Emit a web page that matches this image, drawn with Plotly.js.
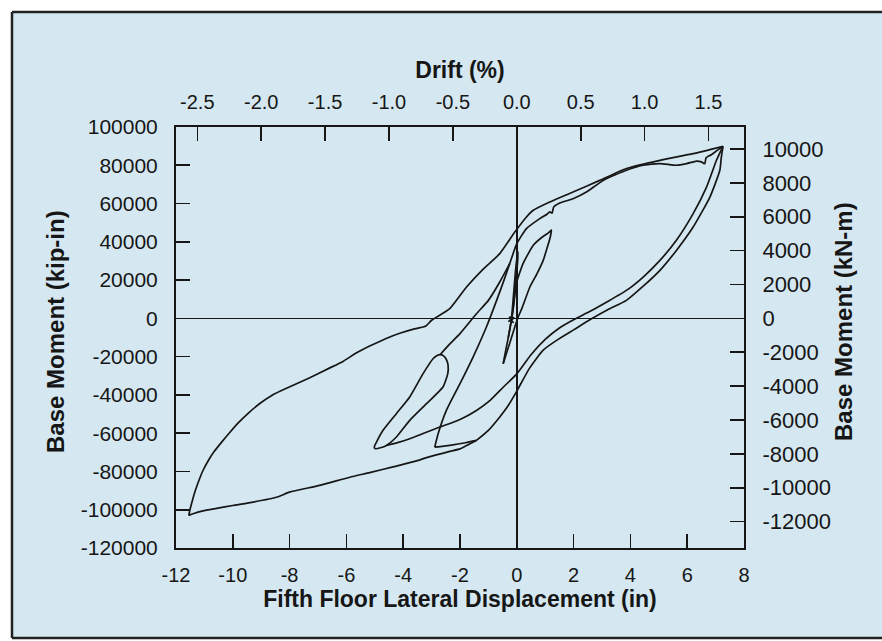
<!DOCTYPE html>
<html>
<head>
<meta charset="utf-8">
<script src="https://cdn.plot.ly/plotly-3.0.1.min.js"></script>
<style>
  html, body { margin: 0; padding: 0; background: #ffffff; }
  #chart { width: 882px; height: 641px; }
</style>
</head>
<body>
<div id="chart"></div>
<script>
// Base moment vs. fifth-floor lateral displacement, one trace per branch of the test history.

// Small elastic cycles around the origin
const elasticX = [-0.48, -0.38, -0.28, -0.2, -0.15, -0.1, -0.05, 0.0, 0.04, 0.03, -0.02, -0.08, -0.14, -0.19, -0.28, -0.1, -0.26, -0.12, -0.22];
const elasticY = [-23700, -16000, -8500, -2000, 6000, 15000, 24000, 31000, 34700, 30000, 21000, 11000, 3500, -500, -1500, 200, 600, -2200, -1000];

// Cycle to +1.2 in
const cycle1X = [-0.3, -0.15, -0.02, 0.22, 0.58, 0.9, 1.1, 1.22, 1.17, 1.05, 0.93, 0.7, 0.46, 0.2, 0.05, -0.07, -0.25, -0.48];
const cycle1Y = [-10000, 3000, 18000, 28600, 38200, 42500, 44500, 46200, 42000, 36000, 30300, 23000, 16400, 6000, 700, -4500, -13000, -23700];

// Loop between -5.0 in and -2.7 in
const negLoopX = [-4.59, -4.8, -4.98, -5.02, -4.92, -4.71, -4.24, -3.77, -3.3, -2.95, -2.82, -2.7, -2.58, -2.48, -2.42, -2.43, -2.6, -3.18, -3.77, -4.24, -4.59];
const negLoopY = [-66400, -67600, -68100, -67300, -64000, -58500, -49800, -41100, -28900, -21100, -19500, -19000, -19600, -21500, -24500, -28900, -35900, -44600, -53300, -62000, -66400];

// Reloading from the top of that loop
const negLoopReloadX = [-2.7, -2.4, -2.0, -1.42, -1.0, -0.6, -0.25];
const negLoopReloadY = [-19000, -14000, -8000, 2400, 9400, 19000, 28600];

// Unloading from +7.3 in (inner branch)
const unloadInnerX = [7.26, 7.15, 7.03, 6.68, 6.21, 5.62, 5.04, 4.45, 3.86, 3.2, 2.6, 2.0, 1.5, 1.0, 0.5, 0.0, -0.48, -0.95, -1.42, -2.0, -2.71, -3.3, -3.77, -4.2, -4.59];
const unloadInnerY = [89900, 86500, 82600, 68600, 54700, 40800, 30300, 21600, 14600, 8800, 3800, -700, -5000, -11000, -19000, -29000, -36000, -43000, -48100, -52800, -56800, -60200, -62900, -64900, -66400];

// Unloading from +7.3 in (outer branch)
const unloadOuterX = [7.26, 7.2, 7.15, 6.8, 6.21, 5.62, 5.04, 4.45, 3.86, 3.2, 2.6, 2.0, 1.4, 0.92, 0.45, 0.0, -0.3, -0.6, -1.0, -1.42];
const unloadOuterY = [89900, 84000, 77400, 63400, 47700, 35500, 25100, 16800, 9400, 4500, -500, -6000, -11500, -16700, -26000, -38000, -45500, -51500, -58500, -63800];

// Short excursion to -2.9 in
const toMinus29X = [-1.42, -1.8, -2.3, -2.7, -2.89];
const toMinus29Y = [-63800, -65000, -66200, -67000, -67300];

// Reloading from -2.9 in up to +7.3 in
const reloadB_X = [-2.89, -2.77, -2.48, -2.0, -1.54, -1.07, -0.71, -0.45, -0.25, 0.0, 0.34, 0.81, 1.05, 1.16, 1.24, 1.3, 1.51, 1.98, 2.45, 3.04, 3.86, 4.45, 5.04, 5.62, 5.98, 6.33, 6.5, 6.62, 6.66, 6.72, 6.85, 7.03, 7.26];
const reloadB_Y = [-67300, -60300, -48100, -34100, -20200, -4500, 9400, 20000, 28600, 39000, 46900, 52100, 54300, 55600, 55000, 58200, 60300, 62500, 66000, 72100, 77400, 80000, 80900, 80000, 80900, 82200, 81800, 80800, 83800, 84500, 85500, 87500, 89900];

// Push to the largest negative displacement
const pushNegX = [-1.42, -1.65, -2.0, -2.36, -3.18, -3.53, -4.36, -5.18, -5.88, -6.94, -8.0, -8.46, -9.28, -10.0, -10.57, -11.05, -11.4, -11.55];
const pushNegY = [-63800, -65500, -68200, -69500, -72800, -74500, -77600, -80600, -83000, -87300, -90800, -93500, -96000, -97800, -99300, -100600, -102100, -103000];

// Reloading from -11.6 in back to +7.3 in
const reloadA_X = [-11.55, -11.5, -11.42, -11.32, -11.2, -11.05, -10.85, -10.65, -10.4, -10.1, -9.8, -9.45, -9.05, -8.6, -8.11, -7.29, -6.6, -6.12, -5.64, -5.18, -4.6, -4.12, -3.6, -3.3, -3.2, -3.0, -2.36, -1.77, -1.2, -0.6, -0.07, 0.34, 0.58, 1.16, 1.98, 2.92, 3.86, 5.04, 6.21, 7.26];
const reloadA_Y = [-103000, -99500, -95000, -90000, -85000, -79500, -74000, -69500, -64800, -59500, -54500, -49500, -44500, -40000, -36500, -31000, -26000, -22500, -18000, -14500, -10500, -7800, -5500, -4500, -4000, -1000, 5100, 16400, 25500, 33800, 45100, 53000, 56500, 60800, 66000, 72100, 78300, 82600, 86100, 89900];

// Axis ticks
const dispTicks = [-12, -10, -8, -6, -4, -2, 0, 2, 4, 6, 8];
const driftTicks = [-2.5, -2.0, -1.5, -1.0, -0.5, 0.0, 0.5, 1.0, 1.5];
const kipInTicks = [100000, 80000, 60000, 40000, 20000, 0, -20000, -40000, -60000, -80000, -100000, -120000];
const kNmTicks = [10000, 8000, 6000, 4000, 2000, 0, -2000, -4000, -6000, -8000, -10000, -12000];

// Unit relations for the secondary axes
const STORY_HEIGHT_IN = 450;         // fifth-floor height used for drift
const KIPIN_TO_KNM = 0.112985;
const X_RANGE = [-12, 8];
const Y_RANGE = [-120000, 100000];
const driftRange = X_RANGE.map(v => v / STORY_HEIGHT_IN * 100);
const kNmRange = Y_RANGE.map(v => v * KIPIN_TO_KNM);

const INK = '#161616';
const BG = '#d5e8f1';
const FONT = '"Liberation Sans", Arial, Helvetica, sans-serif';

const branches = [
  [elasticX, elasticY], [cycle1X, cycle1Y], [negLoopX, negLoopY], [negLoopReloadX, negLoopReloadY],
  [unloadInnerX, unloadInnerY], [unloadOuterX, unloadOuterY], [toMinus29X, toMinus29Y],
  [reloadB_X, reloadB_Y], [pushNegX, pushNegY], [reloadA_X, reloadA_Y]
];

const traces = branches.map(([x, y]) => ({
  type: 'scatter', mode: 'lines', x: x, y: y,
  xaxis: 'x', yaxis: 'y',
  line: { color: INK, width: 1.7, shape: 'spline', smoothing: 0.5 },
  hoverinfo: 'skip'
}));

// Empty traces so the drift (top) and kN-m (right) axes get drawn
traces.push({ type: 'scatter', mode: 'lines', x: [], y: [], xaxis: 'x2', yaxis: 'y', hoverinfo: 'skip' });
traces.push({ type: 'scatter', mode: 'lines', x: [], y: [], xaxis: 'x', yaxis: 'y2', hoverinfo: 'skip' });

const axisCommon = {
  ticks: 'inside', ticklen: 14, tickwidth: 1.6, tickcolor: INK,
  showline: true, linewidth: 2, linecolor: INK,
  showgrid: false, automargin: false, fixedrange: true
};

// Panel frame in paper units (plot area spans 176..744 px across, 127..548 px down)
const px = v => (v - 176) / 568;
const py = v => (548 - v) / 421;
const FRAME = { left: px(12), right: px(900), top: py(12), bottom: py(638) };

const layout = {
  width: 882, height: 641,
  margin: { l: 176, r: 138, t: 127, b: 93, pad: 0 },
  paper_bgcolor: '#ffffff',
  plot_bgcolor: 'rgba(0,0,0,0)',
  showlegend: false,
  font: { family: FONT, color: INK },
  xaxis: Object.assign({}, axisCommon, {
    range: X_RANGE, tickmode: 'array', tickvals: dispTicks, ticktext: dispTicks.map(String),
    zeroline: true, zerolinecolor: INK, zerolinewidth: 1.6,
    tickfont: { size: 20 }, ticklabelstandoff: 8,
    title: { text: '<b>Fifth Floor Lateral Displacement (in)</b>', font: { size: 23 }, standoff: 4 }
  }),
  xaxis2: Object.assign({}, axisCommon, {
    overlaying: 'x', side: 'top', anchor: 'y',
    range: driftRange, tickmode: 'array', tickvals: driftTicks, ticktext: driftTicks.map(v => v.toFixed(1)),
    zeroline: false, tickfont: { size: 20 }, ticklabelstandoff: 8,
    title: { text: '<b>Drift (%)</b>', font: { size: 23 }, standoff: 6 }
  }),
  yaxis: Object.assign({}, axisCommon, {
    range: Y_RANGE, tickmode: 'array', tickvals: kipInTicks, ticktext: kipInTicks.map(String),
    zeroline: true, zerolinecolor: INK, zerolinewidth: 1.6,
    tickfont: { size: 21 }, ticklabelstandoff: 12
  }),
  yaxis2: Object.assign({}, axisCommon, {
    overlaying: 'y', side: 'right', anchor: 'x',
    range: kNmRange, tickmode: 'array', tickvals: kNmTicks, ticktext: kNmTicks.map(String),
    zeroline: false, tickfont: { size: 22 }, ticklabelstandoff: 12
  }),
  annotations: [
    { text: '<b>Base Moment (kip-in)</b>', xref: 'paper', yref: 'paper',
      x: px(55), y: py(332), textangle: -90, showarrow: false,
      xanchor: 'center', yanchor: 'middle', font: { size: 24, color: INK } },
    { text: '<b>Base Moment (kN-m)</b>', xref: 'paper', yref: 'paper',
      x: px(843), y: py(322), textangle: -90, showarrow: false,
      xanchor: 'center', yanchor: 'middle', font: { size: 24, color: INK } }
  ],
  shapes: [
    { type: 'rect', xref: 'paper', yref: 'paper', layer: 'below',
      x0: FRAME.left, x1: FRAME.right, y0: FRAME.bottom, y1: FRAME.top,
      fillcolor: BG, line: { width: 0 } },
    { type: 'line', xref: 'paper', yref: 'paper', layer: 'below',
      x0: FRAME.left, x1: FRAME.left, y0: FRAME.bottom, y1: FRAME.top, line: { color: '#222222', width: 2.5 } },
    { type: 'line', xref: 'paper', yref: 'paper', layer: 'below',
      x0: FRAME.left, x1: FRAME.right, y0: FRAME.top, y1: FRAME.top, line: { color: '#222222', width: 2.5 } },
    { type: 'line', xref: 'paper', yref: 'paper', layer: 'below',
      x0: FRAME.left, x1: FRAME.right, y0: FRAME.bottom, y1: FRAME.bottom, line: { color: '#222222', width: 2.5 } }
  ]
};

Plotly.newPlot('chart', traces, layout, { staticPlot: true, displayModeBar: false });
</script>
</body>
</html>
